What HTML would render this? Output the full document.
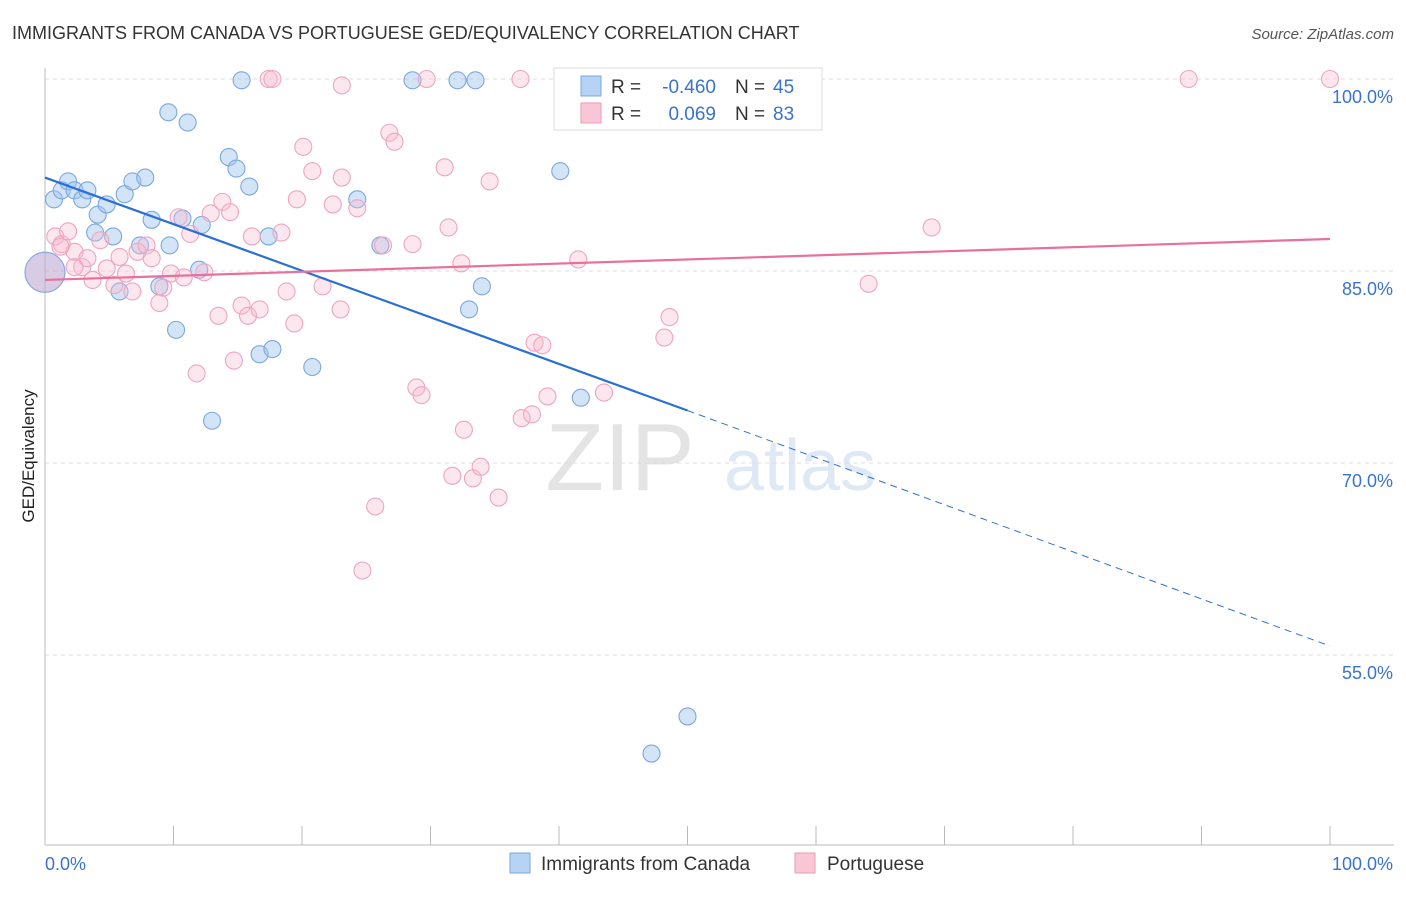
<!DOCTYPE html>
<html><head><meta charset="utf-8"><style>
body{margin:0;background:#fff;font-family:"Liberation Sans",sans-serif;}
svg text{font-family:"Liberation Sans",sans-serif;}
</style></head><body>
<svg id="chart" width="1406" height="892" xmlns="http://www.w3.org/2000/svg">
<text x="12" y="39" font-size="18" fill="#333">IMMIGRANTS FROM CANADA VS PORTUGUESE GED/EQUIVALENCY CORRELATION CHART</text>
<text x="1394" y="39" font-size="15" fill="#555" text-anchor="end" font-style="italic">Source: ZipAtlas.com</text>
<text transform="translate(34,456) rotate(-90)" font-size="17" fill="#222" text-anchor="middle">GED/Equivalency</text>
<text x="620" y="490" font-size="96" fill="#e4e4e4" font-family="Liberation Serif" text-anchor="middle">ZIP</text>
<text x="800" y="490" font-size="72" fill="#dfe8f5" text-anchor="middle">atlas</text>
<g id="grid"></g><g id="axes"></g><g id="pts"></g><g id="lines"></g>
<g>
<rect x="554" y="68" width="268" height="62" fill="#fff" stroke="#ddd"/>
<rect x="581" y="76" width="20" height="20" fill="#b6d2f4" stroke="#7aa8e0"/>
<text x="611" y="93" font-size="19" fill="#333">R =</text>
<text x="716" y="93" font-size="19" fill="#3a72d0" text-anchor="end">-0.460</text>
<text x="735" y="93" font-size="19" fill="#333">N =</text>
<text x="773" y="93" font-size="19" fill="#3a72d0">45</text>
<rect x="581" y="103" width="20" height="20" fill="#f9c6d6" stroke="#ee9ab7"/>
<text x="611" y="120" font-size="19" fill="#333">R =</text>
<text x="716" y="120" font-size="19" fill="#3a72d0" text-anchor="end">0.069</text>
<text x="735" y="120" font-size="19" fill="#333">N =</text>
<text x="773" y="120" font-size="19" fill="#3a72d0">83</text>
</g>
<g>
<rect x="510" y="853" width="20" height="20" fill="#b6d2f4" stroke="#7aa8e0"/>
<text x="541" y="870" font-size="19" fill="#333">Immigrants from Canada</text>
<rect x="795" y="853" width="20" height="20" fill="#f9c6d6" stroke="#ee9ab7"/>
<text x="827" y="870" font-size="19" fill="#333">Portuguese</text>
</g>
</svg>
<script>
const yTicks=[100,85,70,55];
const yTickLabels=["100.0%","85.0%","70.0%","55.0%"];
const xTickVals=[0,10,20,30,40,50,60,70,80,90,100];
const blueX=[0.7,1.3,1.8,2.3,2.9,3.3,3.9,4.1,4.8,5.3,5.8,6.2,6.8,7.4,7.8,8.3,8.9,9.6,9.7,10.2,10.7,11.1,12.0,12.2,13.0,14.3,14.9,15.3,15.9,16.7,17.4,17.7,20.8,24.3,26.1,28.6,32.1,33.0,33.5,34.0,40.1,41.7,47.2,50.0];
const blueY=[90.6,91.3,92.0,91.3,90.6,91.3,88.0,89.4,90.2,87.7,83.4,91.0,92.0,87.0,92.3,89.0,83.8,97.4,87.0,80.4,89.1,96.6,85.1,88.6,73.3,93.9,93.0,99.9,91.6,78.5,87.7,78.9,77.5,90.6,87.0,99.9,99.9,82.0,99.9,83.8,92.8,75.1,47.3,50.2];
const pinkX=[0.8,1.3,1.8,2.3,2.9,3.3,3.7,4.3,4.8,5.4,5.8,6.3,6.8,7.2,7.9,8.3,8.9,9.2,9.8,10.4,10.8,11.3,11.8,12.4,12.9,13.5,13.8,14.4,14.7,15.3,15.8,16.1,16.7,17.4,17.7,18.4,18.8,19.4,19.6,20.1,20.8,21.6,22.4,23.0,23.1,23.1,24.3,24.7,25.7,26.3,26.8,27.2,28.6,28.9,29.3,29.7,31.1,31.4,31.7,32.4,32.6,33.3,33.9,34.6,35.3,37.0,37.1,37.9,38.1,38.7,39.1,41.5,43.5,48.2,48.6,51.8,64.1,69.0,89.0,100,1.2,2.3];
const pinkY=[87.7,87.1,88.1,86.5,85.3,86.0,84.3,87.4,85.2,83.9,86.1,84.8,83.4,86.5,87.0,86.0,82.5,83.7,84.8,89.2,84.5,87.9,77.0,84.9,89.5,81.5,90.4,89.6,78.0,82.3,81.5,87.7,82.0,100,100,88.0,83.4,80.9,90.6,94.7,92.8,83.8,90.2,82.0,99.5,92.3,89.9,61.6,66.6,87.0,95.8,95.1,87.1,75.9,75.3,100,93.1,88.4,69.0,85.6,72.6,68.8,69.7,92.0,67.3,100,73.5,73.8,79.4,79.2,75.2,85.9,75.5,79.8,81.4,100,84.0,88.4,100,100,86.9,85.3];
const blueTrend=[92.3,74.1,55.7];
const pinkTrend=[84.3,87.5];
const NS="http://www.w3.org/2000/svg";
const sx=v=>45+v*12.85, sy=v=>79+(100-v)*12.8;
function mk(t,a,p){const e=document.createElementNS(NS,t);for(const k in a)e.setAttribute(k,a[k]);p.appendChild(e);return e;}
const grid=document.getElementById('grid'),axes=document.getElementById('axes'),pts=document.getElementById('pts'),lines=document.getElementById('lines');
yTicks.forEach((v,i)=>{
 const l=mk('line',{x1:45,x2:1394,y1:sy(v),y2:sy(v),stroke:'#ddd','stroke-dasharray':'4,4'},grid);
 
 
 const t=mk('text',{x:1393,y:sy(v)+24,'font-size':18,fill:'#3a72d0','text-anchor':'end'},axes);
 t.textContent=yTickLabels[i];
 
 
});
mk('line',{x1:45,x2:45,y1:68,y2:845,stroke:'#bbb'},axes);
const xa=mk('line',{x1:45,x2:1394,y1:845,y2:845,stroke:'#bbb'},axes);


xTickVals.forEach(v=>{const t=mk('line',{x1:sx(v),x2:sx(v),y1:826,y2:845,stroke:'#bbb'},axes);
 
 });
let t0=mk('text',{x:45,y:870,'font-size':18,fill:'#3a72d0'},axes);t0.textContent='0.0%';


let t1=mk('text',{x:1393,y:870,'font-size':18,fill:'#3a72d0','text-anchor':'end'},axes);t1.textContent='100.0%';


blueX.forEach((x,i)=>{const c=mk('circle',{cx:sx(x),cy:sy(blueY[i]),r:8.5,fill:'rgba(160,196,238,0.45)',stroke:'#7aa8e0','stroke-width':1.1},pts);
 
 });
pinkX.forEach((x,i)=>{const c=mk('circle',{cx:sx(x),cy:sy(pinkY[i]),r:8.5,fill:'rgba(247,186,206,0.35)',stroke:'#f0a4bf','stroke-width':1.1},pts);
 
 });
const big=mk('circle',{cx:sx(0),cy:sy(84.9),r:20,fill:'rgba(190,170,210,0.6)',stroke:'#8aa8de','stroke-width':1.2},pts);


const bl=mk('line',{x1:sx(0),y1:sy(blueTrend[0]),x2:sx(50),y2:sy(blueTrend[1]),stroke:'#2a6fd6','stroke-width':2.2},lines);


const bd=mk('line',{x1:sx(50),y1:sy(blueTrend[1]),x2:sx(100),y2:sy(blueTrend[2]),stroke:'#2a6fd6','stroke-width':1,'stroke-dasharray':'7,5'},lines);


const pl=mk('line',{x1:sx(0),y1:sy(pinkTrend[0]),x2:sx(100),y2:sy(pinkTrend[1]),stroke:'#e8709a','stroke-width':2.2},lines);


</script>
</body></html>
